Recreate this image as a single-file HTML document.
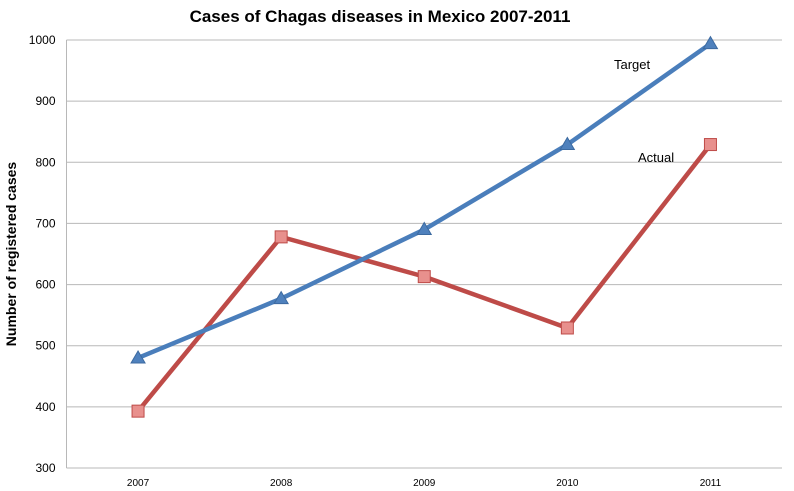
<!DOCTYPE html>
<html><head><meta charset="utf-8"><style>
body{margin:0;background:#fff;font-family:"Liberation Sans",sans-serif;}
svg{display:block}
</style></head><body>
<svg id="chart" width="794" height="491">
<text x="380" y="22" text-anchor="middle" font-size="17" font-weight="bold">Cases of Chagas diseases in Mexico 2007-2011</text>
<text transform="translate(16,254) rotate(-90)" text-anchor="middle" font-size="14" font-weight="bold">Number of registered cases</text>
<g id="grid"></g><g id="series"></g>
<text x="614" y="69" font-size="13">Target</text>
<text x="638" y="162" font-size="13">Actual</text>
</svg>
<script>
const categories=["2007","2008","2009","2010","2011"];
const targetValues=[480,577,690,829,994];
const actualValues=[393,678,613,529,829];
const yTicks=[300,400,500,600,700,800,900,1000];
const NS="http://www.w3.org/2000/svg";
const L=66.5,R=782,T=40,B=468,yMin=300,yMax=1000;
const bw=(R-L)/categories.length;
const xs=i=>L+bw*(i+0.5);
const ys=v=>B-(v-yMin)/(yMax-yMin)*(B-T);
function mk(tag,attrs,parent){const e=document.createElementNS(NS,tag);for(const k in attrs)e.setAttribute(k,attrs[k]);parent.appendChild(e);return e;}
const grid=document.getElementById('grid'),ser=document.getElementById('series');
yTicks.forEach(v=>{
 const l=mk('line',{x1:L,x2:R,y1:ys(v),y2:ys(v),stroke:'#b8b8b8','stroke-width':1},grid);
 
 
 const t=mk('text',{x:L-11,y:ys(v)+4,'text-anchor':'end','font-size':12},grid);t.textContent=v;
 
 
});
const ax=mk('line',{x1:L,x2:L,y1:T,y2:B,stroke:'#b8b8b8'},grid);


categories.forEach((c,i)=>{
 const t=mk('text',{x:xs(i),y:486,'text-anchor':'middle','font-size':10},grid);t.textContent=c;
 
 
});
function line(vals,color,name){
 const p=mk('polyline',{points:vals.map((v,i)=>xs(i)+','+ys(v)).join(' '),fill:'none',stroke:color,'stroke-width':4.5,'stroke-linejoin':'round'},ser);
 
 
}
line(actualValues,'#be4b48','actual');
line(targetValues,'#4a7ebb','target');
actualValues.forEach((v,i)=>{
 const r=mk('rect',{x:xs(i)-6,y:ys(v)-6,width:12,height:12,fill:'#e8908d',stroke:'#be4b48','stroke-width':1},ser);
 
 
});
targetValues.forEach((v,i)=>{
 const x=xs(i),y=ys(v);
 const p=mk('polygon',{points:`${x},${y-7} ${x+7},${y+5} ${x-7},${y+5}`,fill:'#4f81bd',stroke:'#3c6aa0'},ser);
 
 
});
</script>
</body></html>
